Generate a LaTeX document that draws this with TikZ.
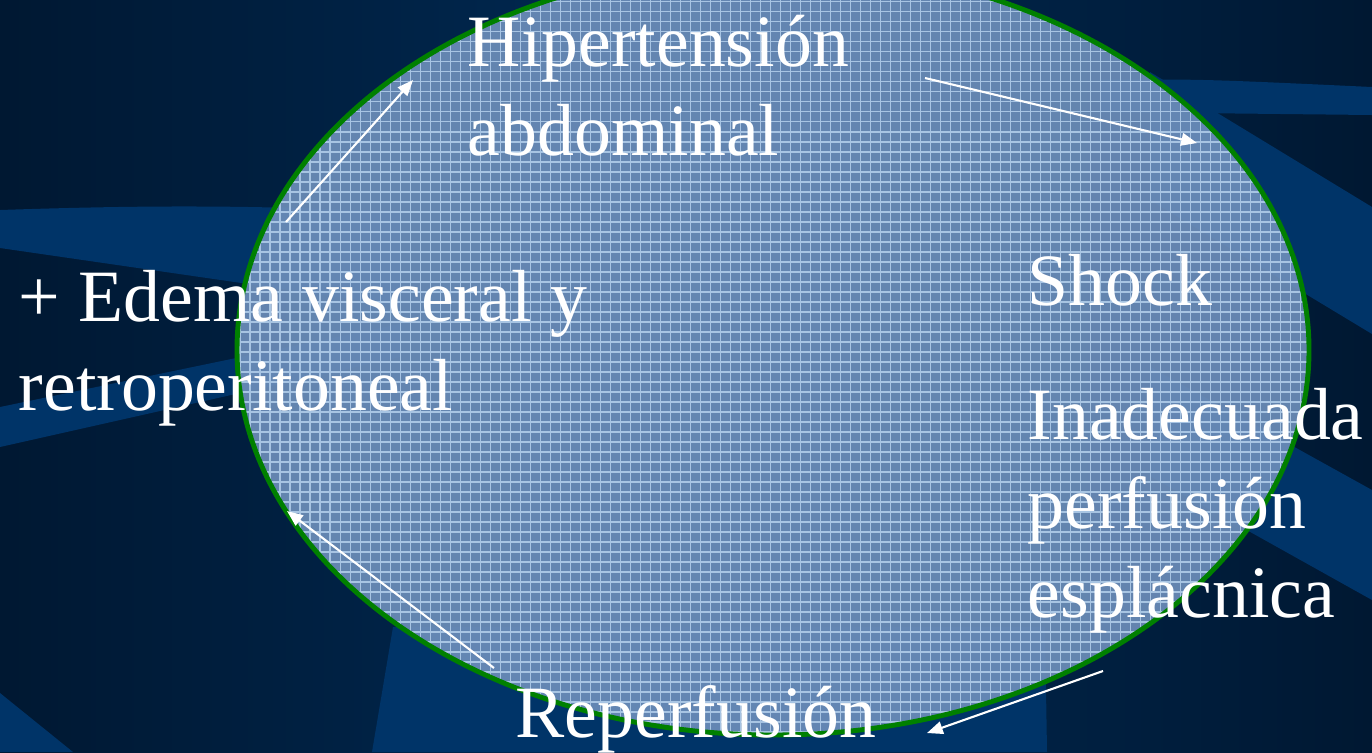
\documentclass[tikz,border=0pt]{standalone}
\usepackage{fontspec}
\setmainfont{Liberation Serif}
\usetikzlibrary{arrows.meta}
\definecolor{bgdark}{RGB}{0,24,50}
\definecolor{bgmid}{RGB}{0,42,84}
\definecolor{bgband}{RGB}{0,52,104}
\definecolor{ovalfill}{RGB}{110,144,188}
\definecolor{ovalgrid}{RGB}{180,208,236}
\definecolor{ovalline}{RGB}{0,128,0}

\begin{document}
\begin{tikzpicture}[
    txt/.style={text=white, font=\fontsize{21}{25.2}\selectfont, inner sep=0pt, anchor=base west, align=left},
    flow/.style={white, line width=0.6pt, -{Triangle[length=4.5pt,width=3.6pt]}}]
    % background
    \useasboundingbox (0,0) rectangle (13.72,7.52);
    \shade[left color=bgdark, right color=bgdark, middle color=bgmid] (0,0) rectangle (13.72,7.52);
    \fill[bgband] (0,5.42) .. controls (1.5,5.47) and (2.5,5.47) .. (4,5.40) -- (4,4.46) -- (0,5.04) -- cycle;
    \fill[bgband] (0,3.45) -- (4,4.28) -- (4,3.95) -- (0,3.05) -- cycle;
    \fill[bgband] (0,0.59) -- (0.73,0) -- (0,0) -- cycle;
    \fill[bgband] (3.72,0) -- (3.93,1.25) -- (10.45,1.25) -- (10.47,0) -- cycle;
    \fill[bgband] (11,6.72) .. controls (12,6.73) .. (13.72,6.65) -- (13.72,6.37) -- (11,6.40) -- cycle;
    \fill[bgband] (11.5,6.80) -- (13.72,5.45) -- (13.72,4.18) -- (11.5,5.52) -- cycle;
    \fill[bgband] (11.5,3.85) -- (13.72,2.62) -- (13.72,1.52) -- (11.5,2.76) -- cycle;
    % oval
    \fill[ovalfill, fill opacity=0.9] (7.73,4.02) ellipse (5.36 and 3.85);
    \begin{scope}
        \clip (7.73,4.02) ellipse (5.36 and 3.85);
        \draw[ovalgrid, opacity=0.85, line width=0.3pt, step=0.1] (2.3,0) grid (13.2,7.6);
    \end{scope}
    \draw[ovalline, line width=1.4pt] (7.73,4.02) ellipse (5.36 and 3.85);
    % texts
    \node[txt] (hiper) at (4.67,5.97) {Hipertensión\\abdominal};
    \node[txt] (edema) at (0.18,3.42) {+ Edema visceral y\\retroperitoneal};
    \node[txt] (shock) at (10.27,4.47) {Shock};
    \node[txt] (perfus) at (10.27,1.35) {Inadecuada\\perfusión\\esplácnica};
    \node[txt] (reperf) at (5.15,0.15) {Reperfusión};
    % arrows
    \coordinate (edemaout) at (2.86,5.30);
    \coordinate (hiperin) at (4.13,6.72);
    \coordinate (hiperout) at (9.25,6.74);
    \coordinate (shockin) at (11.97,6.09);
    \coordinate (perfusout) at (11.03,0.81);
    \coordinate (reperfin) at (9.27,0.19);
    \coordinate (reperfout) at (4.94,0.84);
    \coordinate (edemain) at (2.87,2.41);
    \draw[flow] (edemaout) -- (hiperin);
    \draw[flow] (hiperout) -- (shockin);
    \draw[flow] (perfusout) -- (reperfin);
    \draw[flow] (reperfout) -- (edemain);
\end{tikzpicture}
\end{document}
